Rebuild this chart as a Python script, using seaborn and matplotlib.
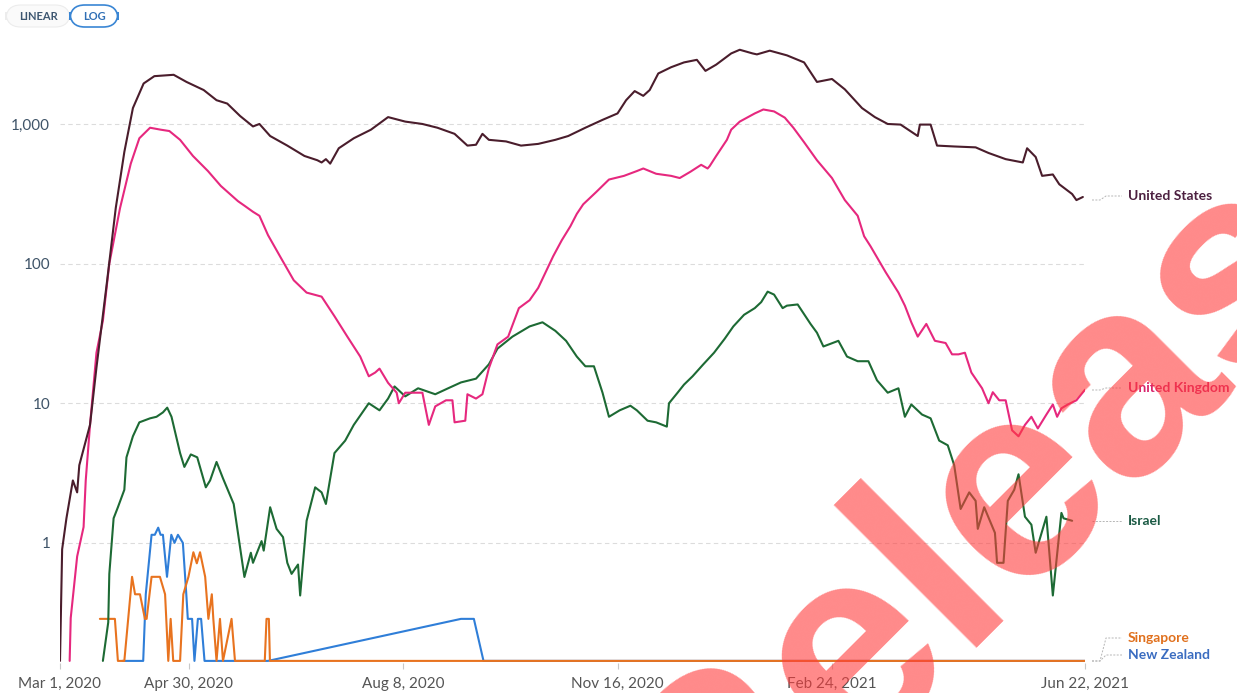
import numpy as np
import pandas as pd
import matplotlib
matplotlib.use("Agg")
import matplotlib.pyplot as plt
import seaborn as sns
from matplotlib.patches import FancyBboxPatch
from matplotlib.lines import Line2D

# Daily new confirmed COVID-19 deaths, 7-day rolling average (log scale).
# Days are counted from 1 March 2020.
START = pd.Timestamp("2020-03-01")
END_DAY = 478

us_days = [0, 1, 3, 6, 8, 9, 14, 17, 22, 26, 30, 34, 39, 44, 53, 59, 67, 73, 78, 84, 90, 93, 98,
           106, 114, 120, 122, 124, 126, 130, 137, 145, 153, 161, 169, 176, 184, 190, 194, 197,
           200, 208, 215, 223, 231, 237, 245, 253, 260, 264, 268, 272, 275, 279, 285, 291, 297,
           301, 306, 313, 317, 323, 325, 331, 339, 347, 353, 360, 366, 374, 380, 386, 392, 400,
           401, 406, 409, 417, 427, 433, 441, 449, 451, 455, 458, 463, 466, 472, 474, 477]
us_deaths = [0.14, 0.9, 1.5, 2.8, 2.3, 3.6, 7, 18, 76, 250, 630, 1300, 1950, 2200, 2250, 2000, 1750,
             1480, 1400, 1140, 960, 1000, 820, 700, 590, 550, 530, 560, 520, 670, 790, 910, 1120,
             1040, 1000, 940, 850, 700, 710, 850, 770, 750, 700, 720, 770, 820, 940, 1070, 1190,
             1480, 1720, 1590, 1750, 2300, 2550, 2760, 2880, 2400, 2660, 3200, 3400, 3200, 3150,
             3350, 3100, 2760, 2000, 2100, 1770, 1300, 1120, 1000, 990, 820, 990, 990, 700, 690,
             680, 620, 560, 530, 670, 580, 425, 435, 370, 315, 285, 300]

uk_days = [4.5, 5, 8, 11, 12, 14, 17, 20, 23, 28, 33, 37, 42, 47, 51, 56, 62, 69, 75, 83, 86, 90,
           93, 97, 103, 109, 115, 122, 128, 134, 140, 144, 147, 149, 153, 157, 158, 161, 164, 169,
           172, 175, 180, 183, 184, 189, 190, 194, 197, 200, 204, 209, 214, 219, 223, 230, 234,
           238, 241, 244, 250, 256, 263, 269, 272, 278, 285, 289, 294, 299, 302, 303, 306, 311,
           313, 317, 324, 328, 333, 338, 342, 347, 353, 360, 366, 372, 375, 378, 385, 391, 394,
           397, 400, 404, 408, 413, 416, 419, 422, 425, 430, 433, 435, 438, 441, 444, 447, 450,
           453, 456, 460, 463, 465, 467, 470, 474, 478]
uk_deaths = [0.14, 0.29, 0.8, 1.3, 2.8, 7, 23, 39, 100, 250, 520, 790, 940, 910, 890, 770, 590, 460,
             360, 280, 260, 235, 220, 160, 110, 76, 62, 58, 42, 30, 21.6, 15.6, 16.6, 17.7, 14,
             11.9, 10, 11.9, 11.9, 11.9, 7, 9.5, 10.5, 10.5, 7.3, 7.5, 11.6, 10.8, 11.6, 17.8,
             26.4, 30, 48, 54.7, 67, 113, 147, 185, 227, 266, 325, 400, 425, 460, 480, 440, 425,
             410, 455, 510, 480, 500, 590, 770, 910, 1040, 1190, 1270, 1230, 1110, 940, 740, 550,
             410, 285, 220, 157, 133, 87, 62, 50, 38, 30, 37, 28, 27, 22.4, 22.4, 23, 16.6, 12.8,
             10, 12, 10.5, 10.5, 6.4, 5.8, 7, 8, 6.6, 8.3, 9.8, 8, 9.2, 9.8, 10.5, 12.5]

il_days = [20, 22.5, 23, 25, 27, 30, 31, 34, 37, 42, 45, 48, 50, 52, 56, 58, 61, 64, 68, 70, 73, 76,
           81, 86, 89, 90, 94, 95, 98, 101, 104, 106, 108, 111, 112, 115, 119, 122, 124, 128, 133,
           137, 144, 149, 153, 156, 161, 167, 175, 181, 187, 194, 200, 204, 211, 219, 225, 231,
           236, 241, 245, 249, 253, 256, 261, 266, 269, 274, 278, 283, 284, 288, 291, 295, 300,
           305, 310, 314, 319, 324, 327, 330, 333, 337, 339, 344, 350, 353, 356, 363, 367, 372,
           377, 381, 386, 391, 394, 397, 402, 406, 410, 414, 417, 420, 424, 427, 428, 431, 436,
           437, 440, 442, 445, 447, 450, 453, 455, 460, 463, 467, 468, 472]
il_deaths = [0.14, 0.27, 0.6, 1.5, 1.8, 2.4, 4.1, 5.8, 7.3, 7.8, 8, 8.6, 9.3, 8, 4.4, 3.5, 4.3, 4.1,
             2.5, 2.8, 3.8, 2.9, 1.9, 0.57, 0.85, 0.72, 1.03, 0.88, 1.8, 1.26, 1.1, 0.72, 0.6, 0.7,
             0.42, 1.44, 2.5, 2.3, 1.9, 4.4, 5.4, 7, 10, 8.9, 10.8, 13.2, 11.2, 12.8, 11.6, 12.8,
             14.1, 15, 19, 24.6, 30, 35.5, 38, 33, 28, 21.6, 18.4, 18.4, 11.9, 8, 8.9, 9.6, 8.9,
             7.5, 7.3, 6.8, 10, 11.9, 13.6, 15.6, 19, 23, 29, 35.5, 43, 48, 53, 63, 60, 48, 50, 51,
             37, 32, 25.5, 28, 21.6, 20, 20, 14.6, 11.9, 12.8, 8, 9.8, 8.3, 7.8, 5.4, 5, 3.6, 1.75,
             2.3, 2, 1.26, 1.8, 1.18, 0.72, 0.72, 2, 2.4, 3.1, 1.54, 1.35, 0.85, 1.54, 0.42, 1.64,
             1.5, 1.44]

sg_days = [18.6, 25.6, 27, 30, 33.6, 35, 37.3, 39.6, 40.4, 42.7, 46.6, 49, 50.5, 51.6, 52.8, 56,
           57.5, 59.9, 62.2, 63.8, 65.3, 67.7, 69.2, 70.8, 71.5, 73, 74.6, 76, 80, 81.6, 95.5,
           96.3, 97.4, 97.9, 478]
sg_deaths = [2/7, 2/7, 0, 0, 4/7, 3/7, 3/7, 2/7, 2/7, 4/7, 4/7, 3/7, 0, 2/7, 0, 0, 3/7, 4/7, 6/7,
             5/7, 6/7, 4/7, 2/7, 3/7, 2/7, 0, 2/7, 0, 2/7, 0, 0, 2/7, 2/7, 0, 0]

nz_days = [29, 38.8, 40, 42.7, 44.2, 45.8, 46.9, 48, 49.9, 51.9, 53.4, 55, 57.3, 58.9, 59.6, 61.6,
           62.7, 64.3, 65.8, 67.4, 97, 187, 193, 197.5, 478]
nz_deaths = [0, 0, 3/7, 8/7, 8/7, 9/7, 8/7, 8/7, 4/7, 8/7, 7/7, 8/7, 7/7, 3/7, 2/7, 2/7, 0, 2/7,
             2/7, 0, 0, 2/7, 2/7, 0, 0]

countries = ["New Zealand", "Singapore", "Israel", "United Kingdom", "United States"]
line_colors = ["#2f7ed8", "#e8731f", "#1d6a34", "#e6287e", "#4a1d2c"]
label_colors = ["#3a6cc0", "#e0701d", "#1b5a44", "#d8256c", "#4c2040"]

tick_days = [0, 60, 160, 260, 360, 478]
tick_labels = ["Mar 1, 2020", "Apr 30, 2020", "Aug 8, 2020", "Nov 16, 2020", "Feb 24, 2021",
               "Jun 22, 2021"]
y_ticks = [1, 10, 100, 1000]
y_tick_labels = ["1", "10", "100", "1,000"]

FLOOR = 1 / 7  # zero and one-death weeks sit on the bottom of the log axis

series = {
    "United States": (us_days, us_deaths),
    "United Kingdom": (uk_days, uk_deaths),
    "Israel": (il_days, il_deaths),
    "Singapore": (sg_days, sg_deaths),
    "New Zealand": (nz_days, nz_deaths),
}
frames = []
for name, (days, vals) in series.items():
    frames.append(pd.DataFrame({
        "date": START + pd.to_timedelta(np.array(days, dtype=float), unit="D"),
        "deaths": np.maximum(np.array(vals, dtype=float), FLOOR),
        "country": name,
    }))
df = pd.concat(frames, ignore_index=True)

sns.set_theme(style="white")
plt.rcParams["font.family"] = ["Lato", "DejaVu Sans"]

W, H = 1237, 693
fig = plt.figure(figsize=(W / 100, H / 100), dpi=100)

# axes box in pixel terms
x0, x1 = 60, 1085
y_top, y_bot = 48, 663
ax = fig.add_axes([x0 / W, (H - y_bot) / H, (x1 - x0) / W, (y_bot - y_top) / H])

sns.lineplot(data=df, x="date", y="deaths", hue="country", hue_order=countries,
             palette=dict(zip(countries, line_colors)), estimator=None, sort=False,
             linewidth=1.5, legend=False, ax=ax)

ax.set_yscale("log")
ax.set_ylim(0.138, 3500)
ax.set_xlim(START, START + pd.Timedelta(days=END_DAY))
ax.set_yticks(y_ticks)
ax.set_yticklabels(y_tick_labels)
ax.yaxis.set_minor_locator(matplotlib.ticker.NullLocator())
ax.set_xticks([START + pd.Timedelta(days=d) for d in tick_days])
ax.set_xticklabels(tick_labels)
ax.set_xlabel("")
ax.set_ylabel("")
for s in ax.spines.values():
    s.set_visible(False)
ax.grid(False)
ax.yaxis.grid(True, color="#dcdcdc", linestyle=(0, (4, 3)), linewidth=0.8)
ax.set_axisbelow(True)
ax.tick_params(axis="y", length=0, pad=7, labelsize=11, labelcolor="#3f5468")
ax.tick_params(axis="x", length=4, width=0.8, color="#c8c8c8", pad=6, labelsize=11,
               labelcolor="#555555", direction="out", bottom=True)

# end-of-line labels with thin connectors
labels = [
    ("United States", 196, 200),
    ("United Kingdom", 388, 390),
    ("Israel", 521, 521),
    ("Singapore", 638, 661),
    ("New Zealand", 655, 661),
]
color_map = dict(zip(countries, label_colors))
for name, ly, ey in labels:
    xs = [1092, 1100, 1106, 1122]
    ys = [ey, ey, ly, ly]
    fig.add_artist(Line2D([x / W for x in xs], [(H - y) / H for y in ys],
                          transform=fig.transFigure, color="#b5b5b5", lw=0.7,
                          linestyle=(0, (2, 1.5))))
    fig.text(1128 / W, (H - ly) / H, name, color=color_map[name], fontsize=10,
             fontweight="bold", va="center", ha="left")

# LINEAR / LOG toggle
def px_box(x, y, w, h, ec, fc, lw):
    return FancyBboxPatch((x / W, (H - y - h) / H), w / W, h / H,
                          boxstyle="round,pad=0,rounding_size=0.012",
                          transform=fig.transFigure, ec=ec, fc=fc, lw=lw,
                          mutation_aspect=W / H)

fig.add_artist(px_box(6, 5, 64, 22, "#ececec", "#fafafa", 0.8))
fig.add_artist(px_box(70, 5, 48, 22, "#3a86d4", "white", 1.2))
fig.text(38 / W, (H - 16) / H, "LINEAR", fontsize=8, fontweight="bold", color="#3d5670",
         ha="center", va="center")
fig.text(94 / W, (H - 16) / H, "LOG", fontsize=8, fontweight="bold", color="#2f6fb5",
         ha="center", va="center")

# diagonal release stamp
fig.text(707 / W, (H - 899) / H, "Release", fontsize=200, color="#ff3b3b", alpha=0.6,
         rotation=45, rotation_mode="anchor", ha="left", va="baseline",
         family="Liberation Sans", fontweight="bold", zorder=10)

fig.savefig("out.png", dpi=100)
